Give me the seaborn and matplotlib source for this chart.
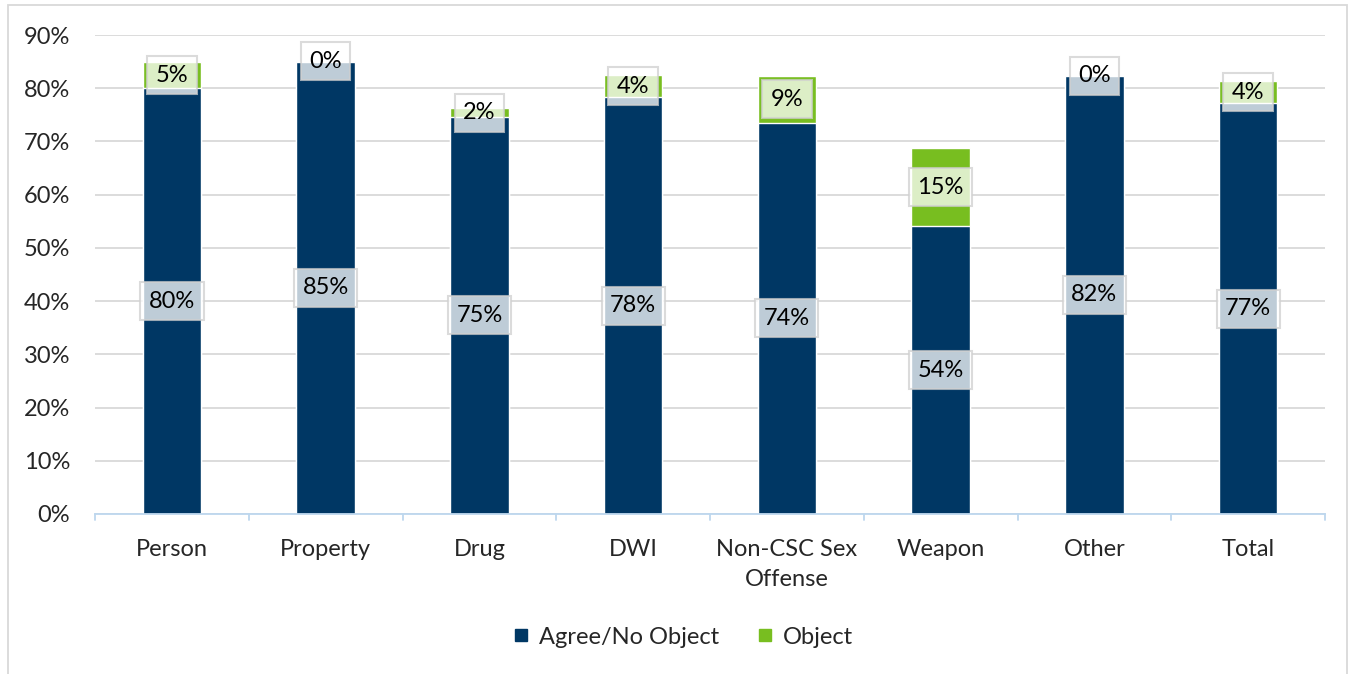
import matplotlib
matplotlib.use("Agg")
import matplotlib.pyplot as plt
import seaborn as sns
import pandas as pd
from matplotlib.patches import Rectangle
from matplotlib.lines import Line2D

categories = ["Person", "Property", "Drug", "DWI", "Non-CSC Sex\nOffense", "Weapon", "Other", "Total"]
agree = [80.0, 85.0, 74.6, 78.3, 73.5, 54.1, 82.3, 77.2]
obj = [4.9, 0.2, 1.6, 4.2, 8.8, 14.6, 0.0, 4.1]
agree_labels = ["80%", "85%", "75%", "78%", "74%", "54%", "82%", "77%"]
obj_labels = ["5%", "0%", "2%", "4%", "9%", "15%", "0%", "4%"]
yticks = [0, 10, 20, 30, 40, 50, 60, 70, 80, 90]

NAVY = "#003764"
GREEN = "#78be20"
FS = 17

sns.set_theme(style="white")
plt.rcParams["font.family"] = ["Lato", "DejaVu Sans"]

df = pd.DataFrame({"cat": categories, "agree": agree, "obj": obj})
df["total"] = df["agree"] + df["obj"]

fig = plt.figure(figsize=(13.54, 6.74), dpi=100)
ax = fig.add_axes([95 / 1354, 1 - 514 / 674, 1230 / 1354, (514 - 35) / 674])

sns.barplot(data=df, x="cat", y="total", color=GREEN, width=0.38, ax=ax,
            edgecolor="white", linewidth=1, saturation=1)
sns.barplot(data=df, x="cat", y="agree", color=NAVY, width=0.38, ax=ax,
            edgecolor="white", linewidth=1, saturation=1)

ax.set_ylim(0, 90)
ax.set_xlim(-0.5, len(categories) - 0.5)
ax.set_yticks(yticks)
ax.set_yticklabels([f"{v}%" for v in yticks], fontsize=FS)
ax.yaxis.grid(True, color="#d9d9d9", linewidth=1.3)
ax.set_axisbelow(True)
ax.set_xlabel("")
ax.set_ylabel("")
for s in ["top", "right", "left"]:
    ax.spines[s].set_visible(False)
ax.spines["bottom"].set_color("#bdd7ee")
ax.spines["bottom"].set_linewidth(1.3)
ax.tick_params(axis="y", length=0, pad=18)
ax.set_xticks(range(len(categories)))
ax.set_xticklabels(categories, fontsize=FS, linespacing=1.5)
ax.tick_params(axis="x", length=0, pad=18)
for b in [i - 0.5 for i in range(len(categories) + 1)]:
    ax.plot([b, b], [0, -1.2], color="#bdd7ee", lw=1.3, clip_on=False)

box = dict(boxstyle="square,pad=0.36", facecolor="white", alpha=0.75, edgecolor="#d0d0d0", linewidth=1.5)
for i in range(len(categories)):
    ax.text(i, agree[i] / 2, agree_labels[i], ha="center", va="center", fontsize=FS,
            color="black", bbox=box)
    ax.text(i, agree[i] + obj[i] / 2, obj_labels[i], ha="center", va="center", fontsize=FS,
            color="black", bbox=box)

handles = [Line2D([], [], marker="s", linestyle="", markersize=9, color=NAVY),
           Line2D([], [], marker="s", linestyle="", markersize=9, color=GREEN)]
fig.legend(handles, ["Agree/No Object", "Object"], loc="center", bbox_to_anchor=(683 / 1354, 1 - 637 / 674),
           ncol=2, frameon=False, fontsize=FS, handlelength=0.7, handletextpad=0.4, columnspacing=1.6)

fig.patches.append(Rectangle((8 / 1354, -0.01), (1347 - 8) / 1354, 1 - 5 / 674 + 0.01,
                             transform=fig.transFigure, fill=False, edgecolor="#d9d9d9", linewidth=1.3))

fig.savefig("out.png", dpi=100, facecolor="white")
